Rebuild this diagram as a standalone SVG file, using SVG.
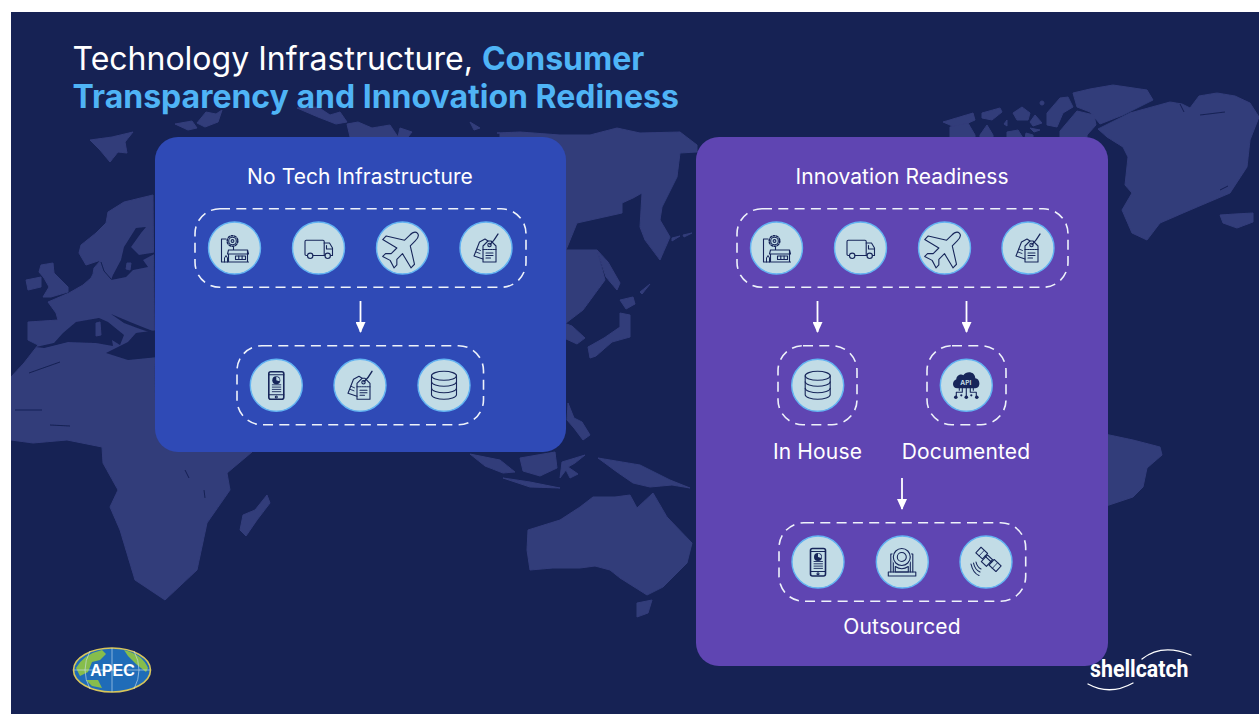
<svg xmlns="http://www.w3.org/2000/svg" width="1259" height="715" viewBox="0 0 1259 715">
<style>
text{font-family:Inter,"Noto Sans","Liberation Sans",sans-serif;fill:#fff}
.land{fill:#323c7a;stroke:#323c7a;stroke-width:1;stroke-linejoin:round}
.seaf{fill:#162254}
.sea{fill:none;stroke:#162254;stroke-width:1}
.group{fill:none;stroke:#eef2fa;stroke-width:1.6;stroke-dasharray:10 6.3}
.disc{fill:#c2dce6;stroke:#63b4f2;stroke-width:1.4}
.ic{fill:none;stroke:#17265a;stroke-width:1.1;stroke-linejoin:round;stroke-linecap:round}
.icf{fill:#17265a}
.hd{font-size:21px;text-anchor:middle;letter-spacing:.1px}
.lb{font-size:21px;text-anchor:middle;letter-spacing:.15px}
.conn{stroke:#fff;stroke-width:1.8;fill:none}
</style>
<defs>
<clipPath id="bgclip"><rect x="11" y="12" width="1248" height="702"/></clipPath>
<filter id="soft" x="-2%" y="-2%" width="104%" height="104%"><feGaussianBlur stdDeviation="0.6"/></filter>
<marker id="ah" viewBox="0 0 11 10" refX="10" refY="5" markerWidth="11" markerHeight="10" markerUnits="userSpaceOnUse" orient="auto"><path d="M0 0L11 5L0 10Z" fill="#fff"/></marker>
<symbol id="factory" overflow="visible"><g class="ic"><path d="M-13-9V14H14M-13-9H-8.5M-6 14V6M-6 2H13V14M-7 6H14L13 2M-7 6L-6 2M-1-1V2"/><path d="M-10 14V10L-8.5 7.5L-7 10V14" stroke-width="1"/><rect x="1" y="8" width="10" height="3.5"/><path d="M4.3 8V11.5M7.6 8V11.5"/><circle cx="-2" cy="-7" r="3.8"/><circle cx="-2" cy="-7" r="5.3" stroke-dasharray="1.7 1.6" stroke-width="1.5"/><circle cx="-2" cy="-7" r="1.4"/></g></symbol>
<symbol id="truck" overflow="visible"><g class="ic" stroke-width="1.2"><path d="M-11 7.5H-12.3Q-13.5 7.5-13.5 6.3V-6.5Q-13.5-7.8-12.3-7.8H4.5Q5.7-7.8 5.7-6.5V7.5H6.5M-5.7 7.5H5.7"/><path d="M5.7-5H11L14 0V7.5H11.8M8-2.5V1H13.5"/><circle cx="-8.3" cy="7.8" r="2.7"/><circle cx="9.2" cy="7.8" r="2.7"/></g></symbol>
<symbol id="plane" overflow="visible"><path class="ic" transform="rotate(45)" d="M0-21C2.5-21 4-18 4-14V-7L20 3V8L4 4V12L8 16V20L0 17.5L-8 20V16L-4 12V4L-20 8V3L-4-7V-14C-4-18-2.5-21 0-21Z"/></symbol>
<symbol id="tag" overflow="visible"><g class="ic"><path d="M-3 11L-12 8L-6.5-6L-1-9L2-7"/><path d="M-10 4L-6 5.5M-9 1L-5.5 2.5" stroke-width=".9"/><path d="M-3 14V-2L2-7H5L10-2V14Z"/><circle cx="3.5" cy="-3" r="1.7"/><path d="M-3 1.5H10" stroke-dasharray="1.5 1"/><path d="M0 5H7M0 7.5H7M0 10H4.5"/><path d="M4-3.5Q8-7 12-14" stroke-width="1.4"/></g></symbol>
<symbol id="phone" overflow="visible"><g class="ic"><rect x="-7.5" y="-13.5" width="15" height="27.5" rx="2" stroke-width="1.6"/><path d="M-7.5-10.5H7.5M-7.5 9.5H7.5"/><path d="M-4-0.5H4.5M-4 1.8H4.5M-4 4.1H4.5M-4 6.4H4.5" stroke-width=".9"/><circle cx="0" cy="11.7" r="1"/></g><circle class="icf" cx="0" cy="-5" r="4"/><path d="M0-5V-8.5A3.5 3.5 0 0 1 3.2-4Z" fill="#c2dce6"/></symbol>
<symbol id="db" overflow="visible"><g class="ic" stroke-width="1.2"><ellipse cx="0" cy="-9.5" rx="12.5" ry="4.5"/><path d="M-12.5-9.5V9.5C-12.5 12 -6 14 0 14S12.5 12 12.5 9.5V-9.5"/><path d="M-12.5-3.5C-12.5-1-6 1 0 1S12.5-1 12.5-3.5M-12.5 3C-12.5 5.5-6 7.5 0 7.5S12.5 5.5 12.5 3"/></g></symbol>
<symbol id="api" overflow="visible"><path class="icf" d="M-9 3C-14 3-15-4-10-6C-10-10-5-12-3-10C0-15 9-14 9-7C14-7 15 3 9 3Z"/><text x="-0.5" y="0" text-anchor="middle" style="font-size:6.5px;font-weight:700;fill:#c2dce6">API</text><g class="ic"><path d="M0 3V11M-4 3V7H-10V11M4 3V7H10V11M-7 3V5M7 3V5"/></g><g class="icf"><circle cx="0" cy="12" r="1.8"/><circle cx="-10.5" cy="12" r="1.8"/><circle cx="10.5" cy="12" r="1.8"/><circle cx="-5" cy="10" r="1.1"/><circle cx="5" cy="10" r="1.1"/></g></symbol>
<symbol id="cam" overflow="visible"><path class="ic" stroke-width="1.5" d="M-11.5 10V-8H10.5V10"/><path class="ic" d="M-9-5V10M8-5V10"/><rect class="ic" x="-14" y="10" width="27.5" height="4" stroke-width="1.5"/><circle cx="-0.5" cy="-5" r="10" fill="#c2dce6"/><circle class="ic" cx="-0.5" cy="-5" r="8.5" stroke-width="2.2"/><circle class="ic" cx="-0.5" cy="-5" r="4.5" stroke-width="1.4"/><path class="ic" d="M-7 4.5Q-0.5 9 6 4.5V10H-7Z"/></symbol>
<symbol id="sat" overflow="visible"><g class="ic" stroke-width="1.2"><g transform="translate(2.3 -2.8) rotate(43)"><rect x="-13.5" y="-3.8" width="9" height="7.6"/><path d="M-9-3.8V3.8" stroke-width=".8"/><rect x="4.5" y="-3.8" width="9.5" height="7.6"/><path d="M9.2-3.8V3.8" stroke-width=".8"/><path d="M-4.5 0H4.5" /><rect x="-3.5" y="-2.5" width="7" height="9"/></g><path d="M-10 0Q-9 5-5 7M-12.5 1Q-11 8-6 10M-15 2Q-13 11-7 13.5"/></g></symbol>
</defs>

<rect width="1259" height="715" fill="#fff"/>
<rect x="11" y="12" width="1248" height="702" fill="#162254"/>

<g clip-path="url(#bgclip)"><g id="map" filter="url(#soft)">
<path class="land" d="M90 140L112 137L133 132L125 142L127 153L118 152L110 162L100 150Z"/>
<path class="land" d="M175 124L192 121L197 128L188 130ZM197 123L206 112L216 114L222 110L218 122L205 127Z"/>
<path class="land" d="M297 108L318 107L330 115L340 112L347 122L336 124L318 117Z"/>
<path class="land" d="M347 124L358 122L372 128L390 125L398 137H350Z"/>
<path class="land" d="M400 128L412 132L408 137H398ZM470 122L480 128L474 130Z"/>
<path class="land" d="M153 195L124 202L108 212L106 223L96 233L81 245L79 253L86 265L101 260L94 268L93 274L91 278L83 285L69 293L48 302L56 313L58 320L28 322L28 340L38 345L24 363L11 377V440L33 443L67 440L102 447L103 463L118 490L110 507L120 530L126 550L135 580L165 600L197 570L207 523L230 490L227 473L252 452L300 400H155Z"/>
<path class="seaf" d="M36 347L54 343L63 333L76 322L99 318L108 322L124 335L120 345L112 340L113 346L96 343L68 342L44 348Z"/>
<path class="seaf" d="M158 330L136 333L128 342L112 350L106 353L128 360L158 357Z"/>
<path class="seaf" d="M111 314L130 322L145 328L158 333L158 335L140 329L124 323Z"/>
<path class="seaf" d="M146 227L136 228L124 247L121 260L113 275L111 280L126 277L133 270L148 267L143 260L158 252L139 255L131 247L141 233Z"/>
<path class="land" d="M127 263L131 263L130 270L126 269Z"/>
<path class="sea" d="M101 262L104 271L111 279"/>
<path class="land" d="M96 323L100 322L101 335L96 336Z"/>
<path class="land" d="M26 280L41 277L41 287L28 290Z"/>
<path class="land" d="M41 265L53 263L54 273L68 287L68 292L51 297L43 297L49 287L44 278L39 272Z"/>
<path class="land" d="M267 495L270 503L257 520L246 536L240 530L243 515L255 510Z"/>
<path class="sea" d="M29 373L60 362M15 410H42M50 425L70 426"/>
<path class="sea" d="M185 470L189 478M204 490L205 498"/>
<path class="land" d="M497 133L520 132L560 135L590 135L617 128L640 133L680 132L697 145V152L680 153L677 177L662 207L660 220L670 237L660 260L645 240L640 227L642 193L633 198L622 203L622 213L577 223L566 250H500V133Z"/>
<path class="land" d="M560 250H597L605 280L583 310L566 323H560Z"/>
<path class="land" d="M597 250L608 262L620 283L617 290L606 277Z"/>
<path class="land" d="M620 300L633 297L635 304L626 309Z"/>
<path class="land" d="M620 313L630 315L630 337L612 342L596 356L590 358L588 347L604 338L620 327Z"/>
<path class="land" d="M564 323L572 326L585 338L577 344L564 338Z"/>
<path class="land" d="M672 238L680 236L672 241ZM683 235L692 233L684 237ZM640 292L650 284L642 294Z"/>
<path class="land" d="M568 403L574 418L582 422L590 435L583 440L574 428L567 420Z"/>
<path class="land" d="M470 454L500 460L515 472L503 473L485 466Z"/>
<path class="land" d="M520 458L555 452L557 468L540 476L523 471Z"/>
<path class="land" d="M503 478L530 482L560 488L530 487Z"/>
<path class="land" d="M562 462L585 455L575 463L568 467L578 474L570 478L566 470L560 478Z"/>
<path class="land" d="M598 458L610 460L640 465L670 480L690 488L672 485L650 487L633 483L617 472Z"/>
<path class="land" d="M528 530L560 520L580 507L593 497L615 497L630 495L637 508L653 493L667 517L692 543L687 563L663 587L647 595L620 578L610 570L595 566L580 568L553 568L530 570L527 550Z"/>
<path class="land" d="M637 603L652 600L648 613L637 617Z"/>
<path class="land" d="M943 122L973 113L975 120L957 128Z"/>
<path class="land" d="M950 127L968 123L975 135V138H950Z"/>
<path class="land" d="M982 113L1000 108L1002 112L992 120L982 118Z"/>
<path class="land" d="M980 135L987 125L993 135V138H980Z"/>
<path class="land" d="M1013 113L1022 107L1030 113L1028 120L1017 120Z"/>
<path class="land" d="M1030 122L1035 115L1042 123L1033 126Z"/>
<path class="land" d="M1030 128L1040 130L1034 132Z"/>
<path class="land" d="M1007 132L1018 130L1023 138H1007ZM1026 133L1033 135V138H1025ZM1004 124L1007 120L1007 126Z"/>
<circle class="land" cx="1042" cy="103" r="2"/>
<path class="land" d="M1047 113L1060 98L1068 97L1073 107L1063 113L1057 127L1047 125Z"/>
<path class="land" d="M1073 93L1090 89L1113 85L1147 90L1153 100L1123 115L1100 124L1090 112L1077 107Z"/>
<path class="land" d="M1060 131L1077 111L1094 115L1096 125L1087 135V138H1060Z"/>
<path class="land" d="M1098 129L1130 113L1170 102L1182 104L1190 108L1199 96L1217 93L1235 96L1250 103L1259 117L1250 140L1247 167L1230 193L1190 210L1160 223L1147 240L1132 233L1122 210L1132 193L1125 185L1128 157L1123 147L1107 137Z"/>
<path class="sea" d="M1180 104L1184 112M1200 115L1225 112M1220 190L1228 186"/>
<path class="land" d="M1220 215L1235 214L1253 213L1253 222L1237 228L1223 223Z"/>
<path class="land" d="M1100 433L1133 440L1160 447L1162 455L1147 468L1143 487L1133 497L1100 508Z"/>
</g></g>

<g id="panel-left"><rect x="155" y="137" width="411" height="315" rx="23" fill="#2f4ab6"/></g>
<g id="panel-right"><rect x="696" y="137" width="412" height="529" rx="23" fill="#5f45b2"/></g>

<g id="title" style="font-size:32px">
<text x="72.5" y="70">Technology Infrastructure, <tspan font-weight="700" style="fill:#4fb4f6">Consumer</tspan></text>
<text x="72.5" y="108" font-weight="700" style="fill:#4fb4f6">Transparency and Innovation Rediness</text>
</g>

<g id="left-source">
<text class="hd" x="360" y="184">No Tech Infrastructure</text>
<rect class="group" x="195" y="208.7" width="331" height="78.6" rx="25"/>
<g id="l1"><circle class="disc" cx="234.5" cy="248" r="26"/><use href="#factory" x="234.5" y="248"/></g>
<g id="l2"><circle class="disc" cx="318.5" cy="248" r="26"/><use href="#truck" x="318.5" y="248"/></g>
<g id="l3"><circle class="disc" cx="402.5" cy="248" r="26"/><use href="#plane" x="402.5" y="248"/></g>
<g id="l4"><circle class="disc" cx="486" cy="248" r="26"/><use href="#tag" x="486" y="248"/></g>
</g>
<g id="left-target">
<rect class="group" x="237" y="345.7" width="246.5" height="79" rx="25"/>
<g id="l5"><circle class="disc" cx="276.3" cy="385.3" r="26"/><use href="#phone" x="276.3" y="385.3"/></g>
<g id="l6"><circle class="disc" cx="360" cy="385.3" r="26"/><use href="#tag" x="360" y="385.3"/></g>
<g id="l7"><circle class="disc" cx="444" cy="385.3" r="26"/><use href="#db" x="444" y="385.3"/></g>
</g>

<g id="right-source">
<text class="hd" x="902" y="184">Innovation Readiness</text>
<rect class="group" x="737" y="208.7" width="331" height="78.6" rx="25"/>
<g id="r1"><circle class="disc" cx="776.5" cy="248" r="26"/><use href="#factory" x="776.5" y="248"/></g>
<g id="r2"><circle class="disc" cx="860.5" cy="248" r="26"/><use href="#truck" x="860.5" y="248"/></g>
<g id="r3"><circle class="disc" cx="944.5" cy="248" r="26"/><use href="#plane" x="944.5" y="248"/></g>
<g id="r4"><circle class="disc" cx="1028" cy="248" r="26"/><use href="#tag" x="1028" y="248"/></g>
</g>
<g id="in-house">
<rect class="group" x="778" y="345.7" width="79" height="79" rx="25"/>
<circle class="disc" cx="817.7" cy="385.3" r="26"/><use href="#db" x="817.7" y="385.3"/>
<text class="lb" x="817.5" y="459">In House</text>
</g>
<g id="documented">
<rect class="group" x="927" y="345.7" width="79" height="79" rx="25"/>
<circle class="disc" cx="966.3" cy="385.3" r="26"/><use href="#api" x="966.3" y="385.3"/>
<text class="lb" x="966" y="459">Documented</text>
</g>
<g id="outsourced">
<rect class="group" x="779" y="522.7" width="246.7" height="78.6" rx="25"/>
<g id="o1"><circle class="disc" cx="818" cy="562" r="26"/><use href="#phone" x="818" y="562"/></g>
<g id="o2"><circle class="disc" cx="902.3" cy="562" r="26"/><use href="#cam" x="902.3" y="562"/></g>
<g id="o3"><circle class="disc" cx="986" cy="562" r="26"/><use href="#sat" x="986" y="562"/></g>
<text class="lb" x="902" y="634">Outsourced</text>
</g>

<g id="connectors">
<path class="conn" marker-end="url(#ah)" d="M360.5 301V332"/>
<path class="conn" marker-end="url(#ah)" d="M817.5 301V332"/>
<path class="conn" marker-end="url(#ah)" d="M966.5 301V332"/>
<path class="conn" marker-end="url(#ah)" d="M902 478V509"/>
</g>

<g id="apec">
<ellipse cx="112" cy="670" rx="38.5" ry="22" fill="#1f6cb8" stroke="#d8c65a" stroke-width="1.6"/>
<path fill="#86bd4c" d="M76 668Q84 654 102 650L106 654L100 660L92 662L88 672L80 676Z M124 650Q142 654 148 668L146 672L136 664L128 656Z M86 680L98 680L102 688L92 686Z"/>
<path fill="none" stroke="#cfe2f2" stroke-width=".6" d="M112 648V692M90 651Q80 670 90 689M134 651Q144 670 134 689M74 670H150"/>
<text x="112.5" y="676" text-anchor="middle" style="font-family:'Liberation Sans',Arial,sans-serif;font-size:16px;font-weight:700;fill:#fff">APEC</text>
</g>
<g id="shellcatch">
<text x="1090" y="677" textLength="98.5" lengthAdjust="spacingAndGlyphs" style="font-family:Roboto,'Liberation Sans',sans-serif;font-size:24.5px;font-weight:700;fill:#fff">shellcatch</text>
<path fill="none" stroke="#fff" stroke-width="1.3" stroke-linecap="round" d="M1142 659Q1162 643 1191 655M1088 684Q1110 696 1133 683"/>
</g>
</svg>
